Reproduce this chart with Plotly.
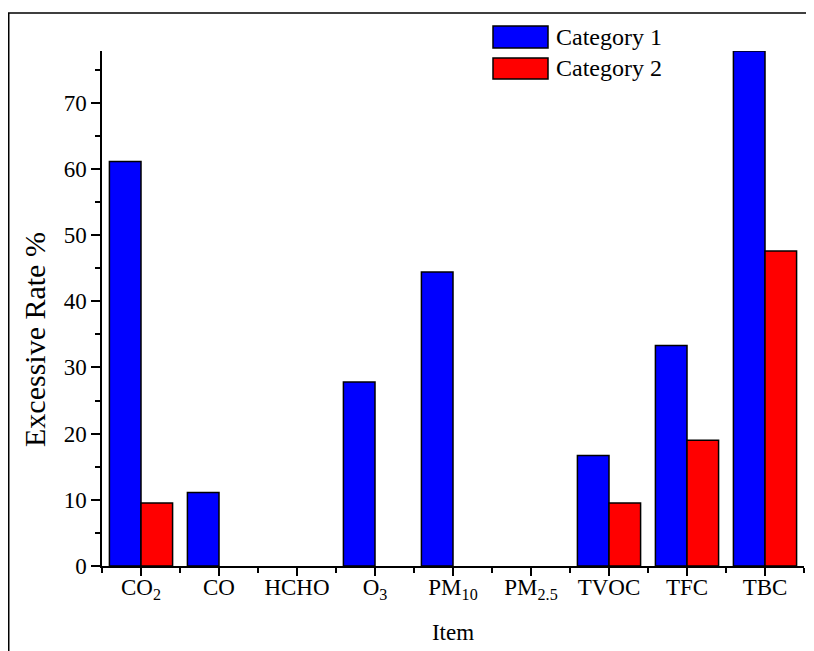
import plotly.graph_objects as go

categories = ["CO<sub>2</sub>", "CO", "HCHO", "O<sub>3</sub>", "PM<sub>10</sub>",
              "PM<sub>2.5</sub>", "TVOC", "TFC", "TBC"]
category1 = [61.1, 11.1, 0, 27.8, 44.4, 0, 16.7, 33.3, 77.8]
category2 = [9.5, 0, 0, 0, 0, 0, 9.5, 19.0, 47.6]
series_names = ["Category 1", "Category 2"]
series_colors = ["#0000FF", "#FF0000"]
x_title = "Item"
y_title = "Excessive Rate %"

FONT = "Liberation Serif"
xpos = list(range(len(categories)))

fig = go.Figure()
for name, vals, col in zip(series_names, [category1, category2], series_colors):
    fig.add_trace(go.Bar(
        x=xpos, y=vals, name=name,
        marker=dict(color=col,
                    line=dict(color="black", width=[1.5 if v > 0 else 0 for v in vals])),
        showlegend=False,
    ))

OFF = 8  # page offset of the figure
W, H = 814, 651
L, R, T, B = 94, 18, 43, 93
pw, ph = W - L - R, H - T - B

def px_x(page_x):
    return (page_x - OFF - L) / pw

def px_y(page_y):
    return (H - B - (page_y - OFF)) / ph

shapes = []
annotations = []
# outer frame
shapes.append(dict(type="rect", xref="paper", yref="paper",
                   x0=px_x(8.75), x1=px_x(840), y0=px_y(13), y1=px_y(690),
                   line=dict(color="black", width=1.5), fillcolor="rgba(0,0,0,0)", layer="below"))
# custom legend
legend_rows = [(26, 48), (58, 79)]
for (ytop, ybot), name, col in zip(legend_rows, series_names, series_colors):
    shapes.append(dict(type="rect", xref="paper", yref="paper",
                       x0=px_x(493), x1=px_x(548), y0=px_y(ytop), y1=px_y(ybot),
                       line=dict(color="black", width=1.5), fillcolor=col))
    annotations.append(dict(xref="paper", yref="paper", x=px_x(554),
                            y=px_y((ytop + ybot) / 2), text=name,
                            showarrow=False, xanchor="left", yanchor="middle",
                            font=dict(family=FONT, size=24, color="black")))
# y axis title
annotations.append(dict(xref="paper", yref="paper", x=px_x(34), y=px_y(340),
                        text=y_title, textangle=-90, showarrow=False,
                        xanchor="center", yanchor="middle",
                        font=dict(family=FONT, size=30, color="black")))

fig.update_layout(
    width=W, height=H,
    margin=dict(l=L, r=R, t=T, b=B, autoexpand=False),
    paper_bgcolor="white", plot_bgcolor="white",
    barmode="group", bargap=0.19, bargroupgap=0,
    font=dict(family=FONT, size=22, color="black"),
    shapes=shapes, annotations=annotations,
    xaxis=dict(
        range=[-0.5, 8.5], tickvals=xpos, ticktext=categories,
        showline=True, linecolor="black", linewidth=1.5,
        ticks="outside", ticklen=8, tickwidth=1.5, tickcolor="black",
        minor=dict(tick0=0.5, dtick=1, ticks="outside", ticklen=5, tickwidth=1.5, tickcolor="black"),
        showgrid=False, zeroline=False,
        tickfont=dict(family=FONT, size=23),
        ticklabelstandoff=-8,
        title=dict(text=x_title, font=dict(family=FONT, size=23), standoff=22),
    ),
    yaxis=dict(
        range=[0, 77.8], dtick=10, tick0=0,
        showline=True, linecolor="black", linewidth=1.5,
        ticks="outside", ticklen=9, tickwidth=1.5, tickcolor="black",
        minor=dict(dtick=5, ticks="outside", ticklen=5, tickwidth=1.5, tickcolor="black"),
        showgrid=False, zeroline=False,
        tickfont=dict(family=FONT, size=23),
    ),
)

fig.write_html("out.html")
